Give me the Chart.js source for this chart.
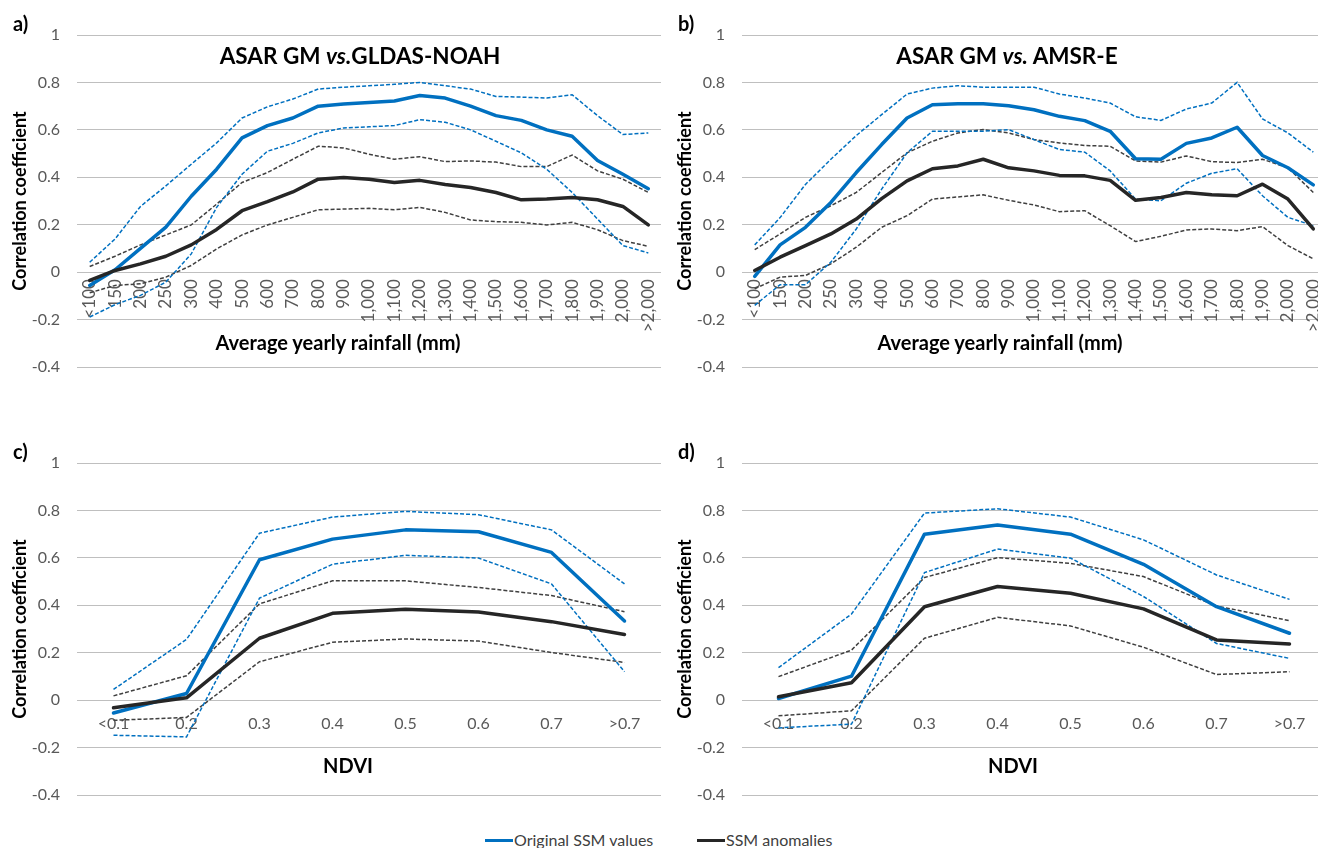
<!DOCTYPE html>
<html>
<head>
<meta charset="utf-8">
<script src="https://cdn.jsdelivr.net/npm/chart.js@4.4.0/dist/chart.umd.min.js"></script>
<style>
html,body{margin:0;padding:0;background:#fff;overflow:hidden;width:1318px;height:848px;font-family:Lato,sans-serif;}
.cv{position:absolute;}
.t{position:absolute;font-weight:bold;color:#000;white-space:nowrap;line-height:1;}
.c{transform:translateX(-50%);}
.leg{position:absolute;top:831px;font-size:16px;color:#404040;line-height:17px;white-space:nowrap;}
.leg span.sw{display:inline-block;width:28px;height:3px;vertical-align:middle;margin-right:1px;position:relative;top:-1px;}
</style>
</head>
<body>
<div class="cv" style="left:0;top:0"><canvas id="ca" width="671" height="400"></canvas></div>
<div class="cv" style="left:665px;top:0"><canvas id="cb" width="671" height="400"></canvas></div>
<div class="cv" style="left:0;top:428px"><canvas id="cc" width="671" height="400"></canvas></div>
<div class="cv" style="left:665px;top:428px"><canvas id="cd" width="671" height="400"></canvas></div>

<div class="t" style="left:13px;top:13px;font-size:20px">a)</div>
<div class="t" style="left:678px;top:13px;font-size:20px">b)</div>
<div class="t" style="left:13px;top:441px;font-size:20px">c)</div>
<div class="t" style="left:678px;top:441px;font-size:20px">d)</div>

<div class="t c" style="left:360px;top:45px;font-size:22.5px">ASAR GM <i>vs.</i>GLDAS-NOAH</div>
<div class="t c" style="left:1007px;top:45px;font-size:22.5px">ASAR GM <i>vs.</i> AMSR-E</div>

<div class="t c" style="left:338px;top:332px;font-size:20px">Average yearly rainfall (mm)</div>
<div class="t c" style="left:1000px;top:332px;font-size:20px">Average yearly rainfall (mm)</div>
<div class="t c" style="left:348px;top:755px;font-size:20px">NDVI</div>
<div class="t c" style="left:1013px;top:755px;font-size:20px">NDVI</div>

<div class="leg" style="left:485px"><span class="sw" style="background:#0070C0"></span>Original SSM values</div>
<div class="leg" style="left:697px"><span class="sw" style="background:#262626"></span>SSM anomalies</div>

<script>
const rainLabels = ['<100','150','200','250','300','400','500','600','700','800','900','1,000','1,100','1,200','1,300','1,400','1,500','1,600','1,700','1,800','1,900','2,000','>2,000'];
const ndviLabels = ['<0.1','0.2','0.3','0.4','0.5','0.6','0.7','>0.7'];

// Panel a: ASAR GM vs. GLDAS-NOAH, by rainfall
const aOrig    = [-0.056,0.01,0.10,0.19,0.32,0.434,0.566,0.618,0.65,0.70,0.709,0.715,0.722,0.745,0.734,0.70,0.66,0.64,0.60,0.573,0.471,0.413,0.352];
const aOrigUp  = [0.042,0.14,0.277,0.364,0.455,0.545,0.65,0.697,0.73,0.772,0.78,0.786,0.792,0.80,0.786,0.772,0.741,0.738,0.734,0.748,0.66,0.58,0.587];
const aOrigLow = [-0.189,-0.137,-0.098,-0.042,0.077,0.273,0.413,0.51,0.543,0.587,0.608,0.613,0.618,0.643,0.632,0.60,0.552,0.503,0.434,0.336,0.224,0.112,0.081];
const aAnom    = [-0.035,0.007,0.035,0.067,0.115,0.18,0.259,0.297,0.338,0.392,0.399,0.392,0.378,0.387,0.37,0.357,0.336,0.305,0.308,0.315,0.305,0.277,0.199];
const aAnomUp  = [0.024,0.067,0.115,0.157,0.199,0.287,0.378,0.42,0.476,0.531,0.524,0.497,0.476,0.487,0.466,0.469,0.464,0.445,0.445,0.494,0.427,0.392,0.336];
const aAnomLow = [-0.087,-0.056,-0.049,-0.021,0.028,0.098,0.157,0.199,0.231,0.263,0.266,0.269,0.263,0.273,0.252,0.22,0.213,0.21,0.199,0.21,0.179,0.133,0.109];

// Panel b: ASAR GM vs. AMSR-E, by rainfall
const bOrig    = [-0.018,0.115,0.189,0.294,0.42,0.538,0.65,0.706,0.71,0.71,0.702,0.685,0.657,0.639,0.594,0.478,0.476,0.543,0.566,0.611,0.492,0.44,0.368];
const bOrigUp  = [0.115,0.23,0.37,0.476,0.576,0.664,0.751,0.776,0.786,0.78,0.78,0.78,0.751,0.734,0.713,0.655,0.64,0.688,0.713,0.80,0.646,0.587,0.506];
const bOrigLow = [-0.14,-0.053,-0.053,0.042,0.182,0.35,0.503,0.594,0.594,0.594,0.601,0.559,0.517,0.506,0.427,0.308,0.301,0.375,0.417,0.436,0.322,0.231,0.196];
const bAnom    = [0.007,0.063,0.112,0.161,0.224,0.31,0.385,0.436,0.448,0.476,0.44,0.427,0.408,0.406,0.387,0.303,0.315,0.336,0.326,0.322,0.371,0.308,0.182];
const bAnomUp  = [0.095,0.161,0.231,0.28,0.336,0.42,0.503,0.552,0.587,0.601,0.587,0.559,0.545,0.534,0.531,0.469,0.464,0.49,0.466,0.462,0.476,0.44,0.336];
const bAnomLow = [-0.07,-0.021,-0.014,0.035,0.105,0.189,0.238,0.308,0.317,0.326,0.303,0.283,0.255,0.259,0.196,0.129,0.151,0.178,0.182,0.175,0.192,0.112,0.056];

// Panel c: ASAR GM vs. GLDAS-NOAH, by NDVI
const cOrig    = [-0.054,0.028,0.592,0.679,0.718,0.71,0.623,0.334];
const cOrigUp  = [0.045,0.256,0.704,0.772,0.796,0.782,0.718,0.49];
const cOrigLow = [-0.148,-0.155,0.43,0.573,0.611,0.599,0.49,0.12];
const cAnom    = [-0.032,0.01,0.261,0.366,0.383,0.372,0.331,0.277];
const cAnomUp  = [0.018,0.103,0.406,0.503,0.503,0.475,0.441,0.373];
const cAnomLow = [-0.085,-0.073,0.162,0.244,0.258,0.249,0.201,0.159];

// Panel d: ASAR GM vs. AMSR-E, by NDVI
const dOrig    = [0.007,0.101,0.70,0.739,0.70,0.573,0.394,0.282];
const dOrigUp  = [0.137,0.363,0.789,0.807,0.772,0.676,0.528,0.425];
const dOrigLow = [-0.117,-0.101,0.538,0.637,0.599,0.437,0.239,0.176];
const dAnom    = [0.014,0.073,0.394,0.479,0.451,0.385,0.254,0.237];
const dAnomUp  = [0.099,0.211,0.517,0.601,0.577,0.521,0.397,0.335];
const dAnomLow = [-0.066,-0.045,0.261,0.349,0.313,0.223,0.108,0.12];

const BLUE = '#0070C0';
const DARK = '#262626';
const GREYDASH = '#404040';

Chart.defaults.font.family = 'Lato';

function solid(label, data, color) {
  return {label, data, borderColor: color, backgroundColor: color, borderWidth: 3.5,
    pointRadius: 0, tension: 0, fill: false, borderJoinStyle: 'round', borderCapStyle: 'round'};
}
function dashed(label, data, color) {
  return {label, data, borderColor: color, backgroundColor: color, borderWidth: 1.5,
    borderDash: [4, 2], pointRadius: 0, tension: 0, fill: false};
}

function makeChart(id, labels, orig, origUp, origLow, anom, anomUp, anomLow, rotated) {
  new Chart(document.getElementById(id), {
    type: 'line',
    data: {
      labels: labels,
      datasets: [
        solid('SSM anomalies', anom, DARK),
        solid('Original SSM values', orig, BLUE),
        dashed('Original upper', origUp, BLUE),
        dashed('Original lower', origLow, BLUE),
        dashed('Anomalies upper', anomUp, GREYDASH),
        dashed('Anomalies lower', anomLow, GREYDASH)
      ]
    },
    options: {
      responsive: false,
      animation: false,
      devicePixelRatio: 1,
      layout: {padding: {left: 0, right: 10, top: 35, bottom: 33}},
      plugins: {legend: {display: false}, tooltip: {enabled: false}},
      scales: {
        x: {
          type: 'category',
          offset: true,
          position: {y: 0},
          grid: {display: false, drawTicks: false},
          border: {display: false},
          ticks: {
            autoSkip: false,
            maxRotation: rotated ? 90 : 0,
            minRotation: rotated ? 90 : 0,
            padding: rotated ? 7 : 14,
            color: '#595959',
            font: {family: 'Lato', size: rotated ? 17 : 16}
          },
          afterFit(s) { s.paddingLeft = 0; s.paddingRight = 0; }
        },
        y: {
          min: -0.4, max: 1,
          grid: {color: '#bfbfbf', lineWidth: 1, drawTicks: false},
          border: {display: false},
          ticks: {
            stepSize: 0.2, padding: 17, color: '#595959',
            font: {family: 'Lato', size: 16},
            callback: v => String(Math.round(v * 10) / 10)
          },
          title: {display: true, text: 'Correlation coefficient', color: '#000',
            font: {family: 'Lato', size: 18, weight: 'bold'}, padding: {top: 9, bottom: 0}},
          afterFit(s) { s.width = 77; }
        }
      }
    }
  });
}

makeChart('ca', rainLabels, aOrig, aOrigUp, aOrigLow, aAnom, aAnomUp, aAnomLow, true);
makeChart('cb', rainLabels, bOrig, bOrigUp, bOrigLow, bAnom, bAnomUp, bAnomLow, true);
makeChart('cc', ndviLabels, cOrig, cOrigUp, cOrigLow, cAnom, cAnomUp, cAnomLow, false);
makeChart('cd', ndviLabels, dOrig, dOrigUp, dOrigLow, dAnom, dAnomUp, dAnomLow, false);
</script>
</body>
</html>
